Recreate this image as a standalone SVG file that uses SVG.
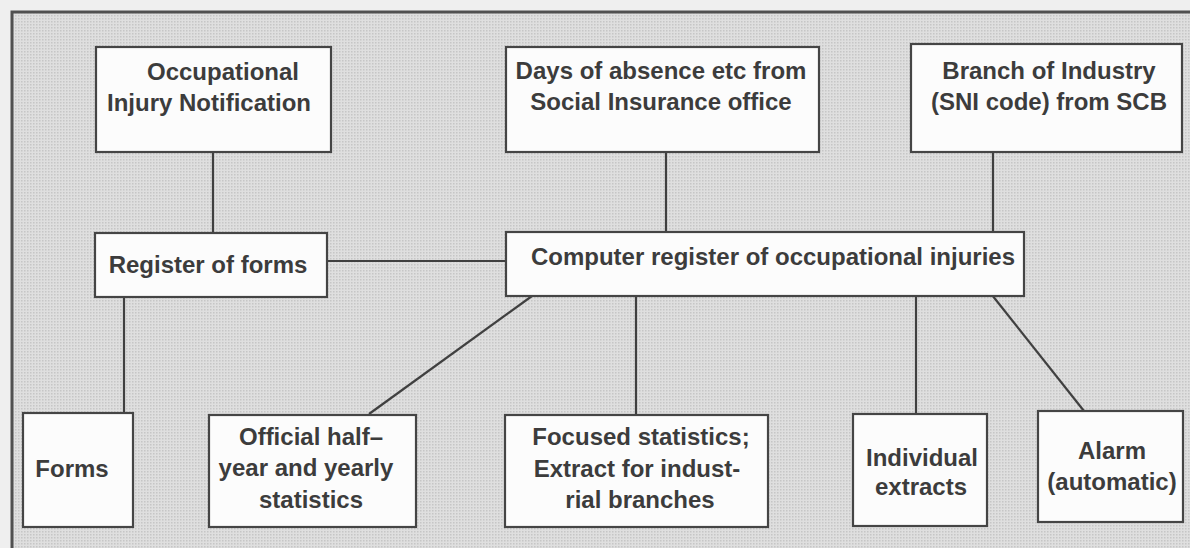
<svg xmlns="http://www.w3.org/2000/svg" width="1190" height="548" viewBox="0 0 1190 548">
<defs>
<pattern id="dots" width="3" height="3" patternUnits="userSpaceOnUse">
<rect width="3" height="3" fill="#dfdfdf"/>
<rect width="1.5" height="1.5" fill="#c6c6c6"/>
</pattern>
<style>
.box{fill:#fcfcfc;stroke:#454545;stroke-width:2.2}
.t{font-family:"Liberation Sans",Arial,Helvetica,sans-serif;font-weight:bold;font-size:24px;fill:#3c3c3c;text-anchor:middle}
.c line{stroke:#404040;stroke-width:2.2}
</style>
</defs>
<rect width="1190" height="548" fill="#efefef"/>
<rect x="12" y="12" width="1200" height="600" fill="url(#dots)" stroke="#505050" stroke-width="3"/>
<g class="c" id="connectors">
<line x1="213" y1="152" x2="213" y2="233"/>
<line x1="666" y1="152" x2="666" y2="232"/>
<line x1="993" y1="152" x2="993" y2="232"/>
<line x1="327" y1="261" x2="506" y2="261"/>
<line x1="124" y1="297" x2="124" y2="413"/>
<line x1="532" y1="296" x2="369" y2="414"/>
<line x1="636" y1="296" x2="636" y2="415"/>
<line x1="916" y1="296" x2="916" y2="413"/>
<line x1="992" y1="295" x2="1084" y2="411"/>
</g>
<g id="n-notification">
<rect class="box" x="96" y="47" width="235" height="105"/>
<text class="t" x="223" y="80">Occupational</text>
<text class="t" x="209" y="111">Injury Notification</text>
</g>
<g id="n-absence">
<rect class="box" x="506" y="47" width="313" height="105"/>
<text class="t" x="661" y="79">Days of absence etc from</text>
<text class="t" x="661" y="110">Social Insurance office</text>
</g>
<g id="n-branch">
<rect class="box" x="911" y="44" width="271" height="108"/>
<text class="t" x="1049" y="79">Branch of Industry</text>
<text class="t" x="1049" y="110">(SNI code) from SCB</text>
</g>
<g id="n-register">
<rect class="box" x="95" y="233" width="232" height="64"/>
<text class="t" x="208" y="273">Register of forms</text>
</g>
<g id="n-computer">
<rect class="box" x="506" y="232" width="518" height="64"/>
<text class="t" x="773" y="265">Computer register of occupational injuries</text>
</g>
<g id="n-forms">
<rect class="box" x="23" y="413" width="110" height="114"/>
<text class="t" x="72" y="477">Forms</text>
</g>
<g id="n-official">
<rect class="box" x="209" y="415" width="207" height="112"/>
<text class="t" x="311" y="445">Official half–</text>
<text class="t" x="306" y="476">year and yearly</text>
<text class="t" x="311" y="508">statistics</text>
</g>
<g id="n-focused">
<rect class="box" x="505" y="415" width="263" height="112"/>
<text class="t" x="641" y="445">Focused statistics;</text>
<text class="t" x="637" y="477">Extract for indust-</text>
<text class="t" x="640" y="508">rial branches</text>
</g>
<g id="n-individual">
<rect class="box" x="853" y="414" width="134" height="112"/>
<text class="t" x="922" y="466">Individual</text>
<text class="t" x="921" y="495">extracts</text>
</g>
<g id="n-alarm">
<rect class="box" x="1038" y="411" width="145" height="111"/>
<text class="t" x="1112" y="459">Alarm</text>
<text class="t" x="1112" y="490">(automatic)</text>
</g>
</svg>
